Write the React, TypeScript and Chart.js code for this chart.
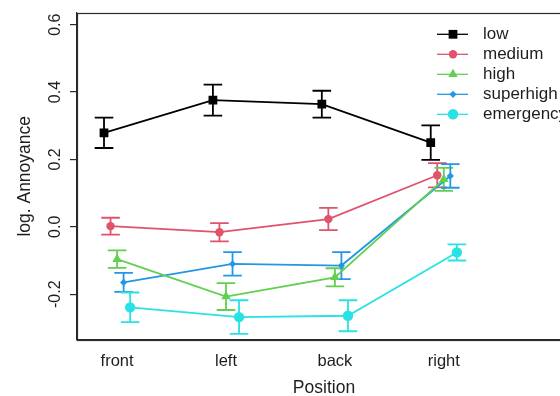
import React, { useEffect, useRef } from 'react';
import { Chart, registerables } from 'chart.js';
import { drawPoint } from 'chart.js/helpers';

Chart.register(...registerables);

// ---- data ----
const positions = ['front', 'left', 'back', 'right'];
const seriesNames = ['low', 'medium', 'high', 'superhigh', 'emergency'];

const lowMean = [0.279, 0.376, 0.364, 0.25];
const lowErr = [0.045, 0.046, 0.04, 0.051];
const mediumMean = [0.002, -0.016, 0.023, 0.153];
const mediumErr = [0.025, 0.027, 0.033, 0.036];
const highMean = [-0.096, -0.207, -0.15, 0.141];
const highErr = [0.026, 0.04, 0.027, 0.034];
const superhighMean = [-0.165, -0.11, -0.115, 0.151];
const superhighErr = [0.028, 0.035, 0.04, 0.035];
const emergencyMean = [-0.239, -0.268, -0.264, -0.076];
const emergencyErr = [0.044, 0.05, 0.046, 0.024];

const yTicks = [-0.2, 0.0, 0.2, 0.4, 0.6];

// ---- styles ----
const means = [lowMean, mediumMean, highMean, superhighMean, emergencyMean];
const errs = [lowErr, mediumErr, highErr, superhighErr, emergencyErr];
const colors = ['#000000', '#DF536B', '#61D04F', '#2297E6', '#28E2E5'];
const dodge = [-0.12, -0.06, 0, 0.06, 0.12];
const pointStyles = ['rect', 'circle', 'triangle', 'rectRot', 'circle'];
const pointRadii = [6.2, 4.2, 5.5, 3.6, 5.2];
const FONT = '"Liberation Sans", Arial, Helvetica, sans-serif';
const AXIS = '#2a2a2a';
const TEXT = '#1e1e1e';

const errorBarPlugin = {
  id: 'errorBars',
  beforeDatasetsDraw(chart: any) {
    const { ctx } = chart;
    const xs = chart.scales.x;
    const ys = chart.scales.y;
    ctx.save();
    chart.data.datasets.forEach((ds: any, di: number) => {
      ctx.strokeStyle = colors[di];
      ctx.lineWidth = 1.8;
      ds.data.forEach((p: any, i: number) => {
        const e = errs[di][i];
        const x = xs.getPixelForValue(p.x);
        const yt = ys.getPixelForValue(p.y + e);
        const yb = ys.getPixelForValue(p.y - e);
        const cap = 9.3;
        ctx.beginPath();
        ctx.moveTo(x, yt);
        ctx.lineTo(x, yb);
        ctx.moveTo(x - cap, yt);
        ctx.lineTo(x + cap, yt);
        ctx.moveTo(x - cap, yb);
        ctx.lineTo(x + cap, yb);
        ctx.stroke();
      });
    });
    ctx.restore();
  },
};

const framePlugin = {
  id: 'frameAndLabels',
  afterDraw(chart: any) {
    const { ctx, chartArea } = chart;
    const ys = chart.scales.y;
    ctx.save();
    ctx.strokeStyle = AXIS;
    ctx.lineWidth = 1.2;
    const l = Math.round(chartArea.left) + 0.5;
    const t = Math.round(chartArea.top) + 0.5;
    const r = Math.round(chartArea.right) + 0.5;
    const b = Math.round(chartArea.bottom) + 0.5;
    ctx.strokeRect(l, t, r - l, b - t);
    // rotated y tick labels
    ctx.fillStyle = TEXT;
    ctx.font = `16px ${FONT}`;
    ctx.textAlign = 'center';
    ctx.textBaseline = 'alphabetic';
    ys.ticks.forEach((tk: any) => {
      const y = ys.getPixelForValue(tk.value);
      ctx.save();
      ctx.translate(chartArea.left - 17, y);
      ctx.rotate(-Math.PI / 2);
      ctx.fillText(Number(tk.value).toFixed(1), 0, 0);
      ctx.restore();
    });
    ctx.restore();
  },
};

const legendPlugin = {
  id: 'customLegend',
  afterDraw(chart: any) {
    const { ctx, chartArea } = chart;
    const x0 = chartArea.left + 360;
    const y0 = chartArea.top + 21.7;
    ctx.save();
    ctx.font = `17px ${FONT}`;
    ctx.textBaseline = 'middle';
    ctx.textAlign = 'left';
    seriesNames.forEach((name, i) => {
      const y = y0 + i * 20;
      ctx.strokeStyle = colors[i];
      ctx.lineWidth = 1.3;
      ctx.beginPath();
      ctx.moveTo(x0, y);
      ctx.lineTo(x0 + 31, y);
      ctx.stroke();
      ctx.fillStyle = colors[i];
      drawPoint(ctx, { pointStyle: pointStyles[i], radius: pointRadii[i], rotation: 0, borderWidth: 0 } as any, x0 + 16, y);
      ctx.fillStyle = TEXT;
      ctx.fillText(name, x0 + 46, y + 0.5);
    });
    ctx.restore();
  },
};

export default function App() {
  const ref = useRef<HTMLCanvasElement>(null);
  useEffect(() => {
    const canvas = ref.current!;
    Chart.defaults.font.family = FONT;
    const datasets = seriesNames.map((name, di) => ({
      label: name,
      data: means[di].map((v, i) => ({ x: i + 1 + dodge[di], y: v })),
      borderColor: colors[di],
      backgroundColor: colors[di],
      borderWidth: 1.8,
      pointStyle: pointStyles[di],
      pointRadius: pointRadii[di],
      pointBorderWidth: 0,
      pointBackgroundColor: colors[di],
      tension: 0,
      fill: false,
    }));
    const chart = new Chart(canvas, {
      type: 'line',
      data: { datasets } as any,
      options: {
        animation: false,
        responsive: false,
        devicePixelRatio: 1,
        layout: { padding: { top: 11, right: 29, left: 0, bottom: 0 } },
        plugins: { legend: { display: false }, tooltip: { enabled: false } },
        scales: {
          x: {
            type: 'linear',
            min: 0.632,
            max: 5.168,
            afterBuildTicks: (s: any) => {
              s.ticks = positions.map((_, i) => ({ value: i + 1 }));
            },
            afterFit: (s: any) => {
              s.height = 56;
            },
            ticks: {
              callback: (v: any) => positions[Math.round(v) - 1] ?? '',
              color: TEXT,
              font: { size: 16.5, family: FONT },
              padding: 12,
              maxRotation: 0,
              autoSkip: false,
            },
            grid: { display: true, drawOnChartArea: false, drawTicks: false, color: AXIS },
            border: { display: true, color: AXIS, width: 1.2 },
            title: {
              display: true,
              text: 'Position',
              color: TEXT,
              font: { size: 17.5, family: FONT },
              padding: { top: 0, bottom: -3 },
            },
          },
          y: {
            type: 'linear',
            min: -0.336,
            max: 0.636,
            afterBuildTicks: (s: any) => {
              s.ticks = yTicks.map((v) => ({ value: v }));
            },
            afterFit: (s: any) => {
              s.width = 77;
            },
            ticks: {
              callback: (v: any) => Number(v).toFixed(1),
              color: 'rgba(0,0,0,0)',
              font: { size: 16, family: FONT },
              autoSkip: false,
            },
            grid: { display: true, drawOnChartArea: false, drawTicks: true, tickLength: 7, color: AXIS, lineWidth: 1.2 },
            border: { display: true, color: AXIS, width: 1.2 },
            title: {
              display: true,
              text: 'log. Annoyance',
              color: TEXT,
              font: { size: 17.5, family: FONT },
              padding: { top: 14.5, bottom: 0 },
            },
          },
        },
      } as any,
      plugins: [errorBarPlugin, framePlugin, legendPlugin],
    });
    return () => chart.destroy();
  }, []);
  return (
    <div
      style={{
        position: 'fixed',
        left: 0,
        top: 0,
        width: 560,
        height: 396,
        overflow: 'hidden',
        background: '#ffffff',
      }}
    >
      <canvas ref={ref} width={600} height={396} style={{ display: 'block', width: 600, height: 396 }} />
    </div>
  );
}
